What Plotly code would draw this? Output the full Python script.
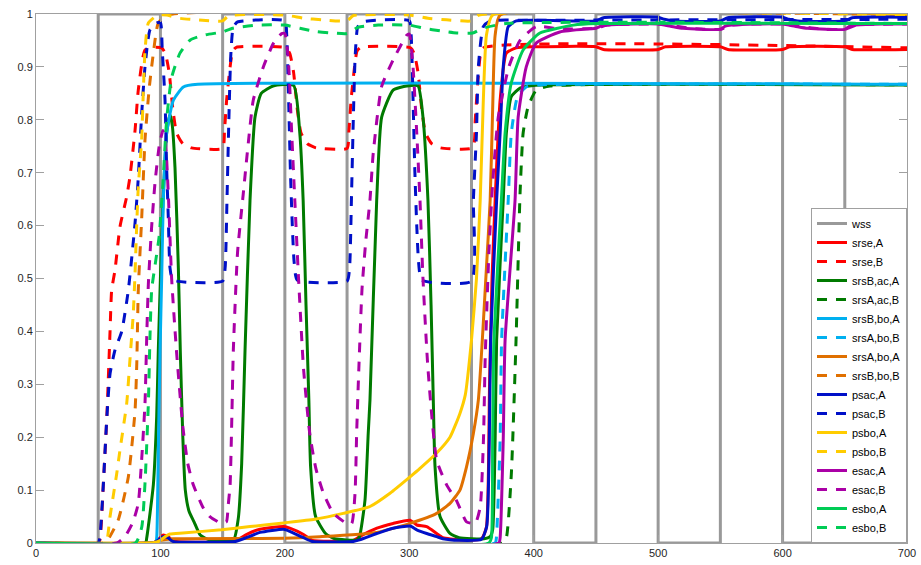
import plotly.graph_objects as go

# ---------------- data ----------------
wss_t = [0, 50, 100, 150, 200, 250, 300, 350, 400, 450, 500, 550, 600, 650, 700]
wss = [0, 1, 0, 1, 0, 1, 0, 1, 0, 1, 0, 1, 0, 1, 1]

srse_A_t = [0, 95, 98, 102, 106, 110, 160, 169, 180, 199, 204, 215, 222, 255, 260, 274, 287, 300.6,
            306, 314, 322, 327, 340, 358, 362, 364.5, 366.5, 369, 373, 378, 386, 400, 450, 456, 500,
            506, 550, 556, 600, 606, 650, 656, 700]
srse_A = [0, 0.001, 0.006, 0.015, 0.013, 0.004, 0.004, 0.016, 0.026, 0.031, 0.028, 0.016, 0.005, 0.005,
          0.012, 0.028, 0.037, 0.043, 0.034, 0.031, 0.018, 0.01, 0.006, 0.008, 0.03, 0.3, 0.5, 0.648,
          0.837, 0.926, 0.936, 0.938, 0.938, 0.933, 0.933, 0.938, 0.938, 0.933, 0.933, 0.938, 0.938,
          0.933, 0.933]

srse_B_t = [0, 50, 51.4, 54, 56.8, 58.1, 59.5, 60.8, 63.5, 67.5, 72.9, 75.5, 79.6, 82.2, 87.6, 94,
            101, 104, 107, 110, 113, 118, 125, 150, 151.5, 153.3, 156, 158, 161,
            201, 204, 207, 210, 213, 218, 225, 250, 251.5, 253.3, 256, 258, 261,
            301, 304, 307, 310, 313, 318, 325, 351, 353, 355, 357, 359.5, 700]
srse_B = [0, 0, 0.006, 0.106, 0.232, 0.31, 0.40, 0.478, 0.516, 0.598, 0.655, 0.692, 0.78, 0.856, 0.932,
          0.937, 0.936, 0.925, 0.89, 0.82, 0.775, 0.755, 0.747, 0.746, 0.78, 0.84, 0.9, 0.93, 0.937,
          0.936, 0.925, 0.89, 0.82, 0.775, 0.755, 0.747, 0.746, 0.78, 0.84, 0.9, 0.93, 0.937,
          0.936, 0.925, 0.89, 0.82, 0.775, 0.755, 0.747, 0.747, 0.8, 0.87, 0.92, 0.936, 0.936]

srsB_ac_A_t = [0, 88, 89, 94.3, 97, 98.3, 100, 102, 105, 107.7, 109.5, 111.7, 114.4, 116, 118, 120,
               123, 127, 132, 140, 158.6, 162.6, 165.3, 168, 172, 176, 181, 190.5, 207, 212, 214.7,
               217, 219.3, 220.7, 224.7, 232.7, 240, 258, 260, 264.4, 267, 268.4, 273.8, 277.8, 287,
               298, 307, 311, 315, 317.5, 319.3, 320.7, 324.7, 332.7, 340, 360, 365, 367, 369, 370.2,
               375.5, 378, 382, 389, 400, 700]
srsB_ac_A = [0, 0, 0.01, 0.11, 0.24, 0.365, 0.5, 0.64, 0.775, 0.81, 0.79, 0.71, 0.52, 0.36, 0.2, 0.1,
             0.06, 0.04, 0.015, 0.005, 0.005, 0.047, 0.15, 0.365, 0.648, 0.805, 0.85, 0.864, 0.865,
             0.775, 0.648, 0.45, 0.27, 0.144, 0.05, 0.018, 0.008, 0.006, 0.012, 0.081, 0.207, 0.27,
             0.648, 0.805, 0.856, 0.864, 0.864, 0.805, 0.648, 0.45, 0.27, 0.144, 0.05, 0.018, 0.01,
             0.008, 0.012, 0.025, 0.195, 0.384, 0.648, 0.775, 0.844, 0.86, 0.865, 0.866]

srsA_ac_B_t = [0, 375, 378, 382, 385.8, 389, 391.5, 395.5, 402, 413, 700]
srsA_ac_B = [0, 0, 0.01, 0.13, 0.384, 0.66, 0.775, 0.825, 0.856, 0.864, 0.866]

srsB_bo_A_t = [0, 96, 97, 98.3, 99.7, 101, 102.3, 105, 110.4, 118.4, 130, 700]
srsB_bo_A = [0, 0, 0.01, 0.176, 0.365, 0.5, 0.648, 0.775, 0.837, 0.862, 0.867, 0.867]

srsA_bo_B_t = [0, 369, 370, 373, 374.2, 379.5, 382, 387, 394, 405, 700]
srsA_bo_B = [0, 0, 0.01, 0.195, 0.384, 0.648, 0.775, 0.844, 0.862, 0.866, 0.867]

srsA_bo_A_t = [0, 95, 100, 110, 200, 228, 274, 300.6, 322, 332.7, 340.7, 346, 351.5, 355.5, 358.7,
               362, 365, 367, 369, 373, 700]
srsA_bo_A = [0, 0.001, 0.005, 0.008, 0.009, 0.012, 0.02, 0.037, 0.056, 0.075, 0.1, 0.144, 0.207, 0.27,
             0.384, 0.52, 0.648, 0.82, 0.96, 0.998, 0.999]

srsB_bo_B_t = [0, 55, 57, 66, 74.2, 79.6, 81, 82.2, 85, 87.6, 91, 94, 98.3, 106, 700]
srsB_bo_B = [0, 0, 0.003, 0.043, 0.125, 0.25, 0.34, 0.478, 0.617, 0.762, 0.86, 0.92, 0.983, 0.998, 0.999]

psac_A_t = [0, 95, 98, 102, 106, 110, 160, 169, 180, 199, 204, 215, 222, 255, 260, 274, 287, 300.6,
            306, 314, 322, 327, 340, 358, 362.2, 364.3, 365.4, 370.2, 373, 375.5, 379.5, 386, 450,
            456, 500, 505, 512, 550, 556, 600, 605, 612, 650, 656, 700]
psac_A = [0, 0.001, 0.005, 0.012, 0.01, 0.003, 0.003, 0.01, 0.02, 0.026, 0.022, 0.01, 0.003, 0.003,
          0.006, 0.018, 0.028, 0.032, 0.025, 0.018, 0.012, 0.008, 0.005, 0.007, 0.031, 0.195, 0.384,
          0.648, 0.775, 0.90, 0.976, 0.987, 0.987, 0.993, 0.994, 0.99, 0.987, 0.987, 0.993, 0.994,
          0.99, 0.987, 0.987, 0.993, 0.994]

psac_B_t = [0, 50, 51.4, 54, 56.8, 59.5, 63.5, 68.9, 74.2, 79.6, 82.2, 84.9, 87.6, 91.6, 97, 100,
            101.5, 103.7, 105, 106.3, 107.7, 110, 150, 152, 153.5, 155, 156.5, 158.5, 162,
            200, 201.5, 203, 204.5, 206, 207.5, 210, 250, 252, 253.5, 255, 256.5, 258.5, 262,
            300, 301.5, 303, 304.5, 306, 307.5, 310, 350, 351.5, 354, 355.5, 359.5, 365, 400, 700]
psac_B = [0, 0, 0.012, 0.106, 0.232, 0.32, 0.365, 0.40, 0.478, 0.605, 0.69, 0.81, 0.90, 0.97, 0.983,
          0.984, 0.93, 0.837, 0.71, 0.617, 0.52, 0.497, 0.495, 0.52, 0.65, 0.8, 0.92, 0.975, 0.985,
          0.987, 0.96, 0.84, 0.7, 0.6, 0.53, 0.497, 0.495, 0.52, 0.65, 0.8, 0.92, 0.975, 0.985,
          0.987, 0.96, 0.84, 0.7, 0.6, 0.53, 0.497, 0.495, 0.648, 0.775, 0.9, 0.976, 0.987, 0.988, 0.99]

psbo_A_t = [0, 95, 100, 102, 107.7, 118, 149, 172, 199, 224, 247, 268.4, 284.5, 300.6, 308.6, 322,
            332.7, 340.7, 345, 350, 354, 357, 359.5, 362, 367, 700]
psbo_A = [0, 0.001, 0.005, 0.009, 0.017, 0.019, 0.025, 0.031, 0.038, 0.045, 0.056, 0.069, 0.094, 0.125,
          0.141, 0.17, 0.2, 0.245, 0.28, 0.384, 0.5, 0.648, 0.837, 0.96, 0.998, 1.0]

psbo_B_t = [0, 55, 57, 59.5, 64.8, 67.5, 72.9, 75.5, 78.2, 79.6, 80.9, 82.2, 84.9, 86.2, 87.6, 90.3,
            98, 105, 115, 130, 150, 155, 200, 215, 230, 250, 255, 300, 315, 330, 350, 356, 700]
psbo_B = [0, 0, 0.005, 0.05, 0.13, 0.176, 0.264, 0.346, 0.435, 0.51, 0.598, 0.673, 0.762, 0.85, 0.93,
          0.983, 0.998, 0.998, 0.992, 0.989, 0.987, 0.997, 0.998, 0.992, 0.989, 0.987, 0.997, 0.998,
          0.992, 0.989, 0.987, 0.998, 0.999]

esac_A_t = [0, 372, 373, 375.5, 377, 385, 387.5, 394, 402, 421, 445, 450, 454, 459, 480, 500, 510,
            520, 535, 550, 554, 559, 580, 600, 610, 620, 635, 650, 654, 659, 680, 700]
esac_A = [0, 0, 0.01, 0.195, 0.384, 0.648, 0.805, 0.90, 0.945, 0.966, 0.972, 0.973, 0.977, 0.979,
          0.981, 0.981, 0.977, 0.973, 0.971, 0.971, 0.977, 0.979, 0.981, 0.981, 0.977, 0.973, 0.971,
          0.971, 0.977, 0.979, 0.981, 0.981]

esac_B_t = [0, 65, 71.5, 78, 82.2, 84.9, 87.6, 89, 90.3, 93, 95.6, 99, 102, 104, 106.5, 109, 113,
            118, 122, 126.4, 134.5, 139.8, 149, 153, 154.5, 156, 157.5, 158.6, 162, 166.6, 170.6,
            174.6, 182.7, 190.7, 197.4, 200, 202.8, 205.5, 208, 211, 215, 220, 225, 231, 239, 249.7,
            253.7, 256.4, 257.7, 259, 262, 265, 268.4, 271, 277.8, 287, 298, 300, 303, 306, 308.6,
            311, 315, 322, 330, 338, 346, 353, 357, 359.6, 361, 364, 367, 371.5, 380, 389, 402, 421,
            450, 459, 500, 530, 550, 559, 600, 630, 650, 659, 700]
esac_B = [0, 0, 0.012, 0.04, 0.075, 0.157, 0.264, 0.39, 0.49, 0.6, 0.68, 0.75, 0.78, 0.76, 0.65, 0.5,
          0.36, 0.22, 0.15, 0.11, 0.066, 0.05, 0.037, 0.04, 0.072, 0.11, 0.25, 0.365, 0.55, 0.661,
          0.756, 0.837, 0.90, 0.944, 0.963, 0.963, 0.913, 0.775, 0.648, 0.5, 0.33, 0.207, 0.14,
          0.094, 0.056, 0.037, 0.037, 0.094, 0.207, 0.3, 0.48, 0.57, 0.648, 0.736, 0.863, 0.913,
          0.96, 0.962, 0.90, 0.775, 0.648, 0.5, 0.33, 0.157, 0.11, 0.08, 0.04, 0.037, 0.068, 0.195,
          0.35, 0.55, 0.68, 0.805, 0.9, 0.95, 0.976, 0.972, 0.973, 0.979, 0.981, 0.972, 0.971,
          0.979, 0.981, 0.972, 0.971, 0.979, 0.981]

esbo_A_t = [0, 364, 366, 367, 368, 374, 377, 382, 391.5, 405, 432, 450, 700]
esbo_A = [0, 0, 0.01, 0.195, 0.384, 0.648, 0.775, 0.87, 0.932, 0.964, 0.979, 0.982, 0.982]

esbo_B_t = [0, 80, 85, 87.6, 90.3, 91.6, 93, 96, 99, 102, 105, 109, 115.7, 124, 135, 145, 150, 158,
            177, 200, 212, 225, 239, 250, 259, 275, 300, 312, 325, 338, 351, 359, 378, 700]
esbo_B = [0, 0, 0.03, 0.113, 0.264, 0.39, 0.48, 0.53, 0.58, 0.68, 0.8, 0.88, 0.926, 0.951, 0.96,
          0.964, 0.966, 0.973, 0.979, 0.979, 0.973, 0.967, 0.964, 0.963, 0.975, 0.979, 0.979, 0.973,
          0.968, 0.964, 0.964, 0.973, 0.982, 0.982]

series_names = ['srse,A', 'srse,B', 'srsB,ac,A', 'srsA,ac,B', 'srsB,bo,A', 'srsA,bo,B',
                'srsA,bo,A', 'srsB,bo,B', 'psac,A', 'psac,B', 'psbo,A', 'psbo,B',
                'esac,A', 'esac,B', 'esbo,A', 'esbo,B']

# ---------------- figure ----------------
RED, DGREEN, LBLUE, ORANGE = '#FF0000', '#007A00', '#00B0F0', '#E07000'
BLUE, YELLOW, MAGENTA, GREEN = '#0010C8', '#FFCC00', '#AA00A6', '#00CC55'
DASH = '10px,9px'
LW = 3

series = [
    (srse_A_t, srse_A, RED, 'solid'),
    (srse_B_t, srse_B, RED, DASH),
    (srsB_ac_A_t, srsB_ac_A, DGREEN, 'solid'),
    (srsA_ac_B_t, srsA_ac_B, DGREEN, DASH),
    (srsB_bo_A_t, srsB_bo_A, LBLUE, 'solid'),
    (srsA_bo_B_t, srsA_bo_B, LBLUE, DASH),
    (srsA_bo_A_t, srsA_bo_A, ORANGE, 'solid'),
    (srsB_bo_B_t, srsB_bo_B, ORANGE, DASH),
    (psac_A_t, psac_A, BLUE, 'solid'),
    (psac_B_t, psac_B, BLUE, DASH),
    (psbo_A_t, psbo_A, YELLOW, 'solid'),
    (psbo_B_t, psbo_B, YELLOW, DASH),
    (esac_A_t, esac_A, MAGENTA, 'solid'),
    (esac_B_t, esac_B, MAGENTA, DASH),
    (esbo_A_t, esbo_A, GREEN, 'solid'),
    (esbo_B_t, esbo_B, GREEN, DASH),
]

fig = go.Figure()
fig.add_trace(go.Scatter(x=wss_t, y=wss, mode='lines', name='wss', line_shape='hv',
                         line=dict(color='#999999', width=LW)))
for name, (tx, ty, col, dash) in zip(series_names, series):
    fig.add_trace(go.Scatter(x=tx, y=ty, mode='lines', name=name, line_shape='spline',
                             line=dict(color=col, width=LW, dash=dash, smoothing=0.5)))

axis_common = dict(showline=True, linecolor='#A0A0A0', linewidth=1, mirror='allticks',
                   ticks='inside', ticklen=8, tickcolor='#A0A0A0', showgrid=False, zeroline=False,
                   automargin=False,
                   tickfont=dict(family='Liberation Sans, Arial', size=11, color='#262626'))
fig.update_xaxes(range=[0, 700], tickvals=[0, 100, 200, 300, 400, 500, 600, 700], **axis_common)
fig.update_yaxes(range=[0, 1], tickvals=[i / 10 for i in range(11)],
                 ticktext=['0', '0.1', '0.2', '0.3', '0.4', '0.5', '0.6', '0.7', '0.8', '0.9', '1'],
                 **axis_common)

fig.update_layout(
    width=921, height=565,
    margin=dict(l=36, r=14, t=14, b=22, autoexpand=False),
    plot_bgcolor='white', paper_bgcolor='white',
    legend=dict(x=1, xanchor='right', y=0, yanchor='bottom', bgcolor='white',
                bordercolor='#A0A0A0', borderwidth=1, tracegroupgap=0, itemwidth=30,
                font=dict(family='Liberation Sans, Arial', size=11, color='#000000')),
)

fig.write_html("out.html", config={'displayModeBar': False},
               post_script="document.body.style.margin='0px';document.body.style.overflow='hidden';")
